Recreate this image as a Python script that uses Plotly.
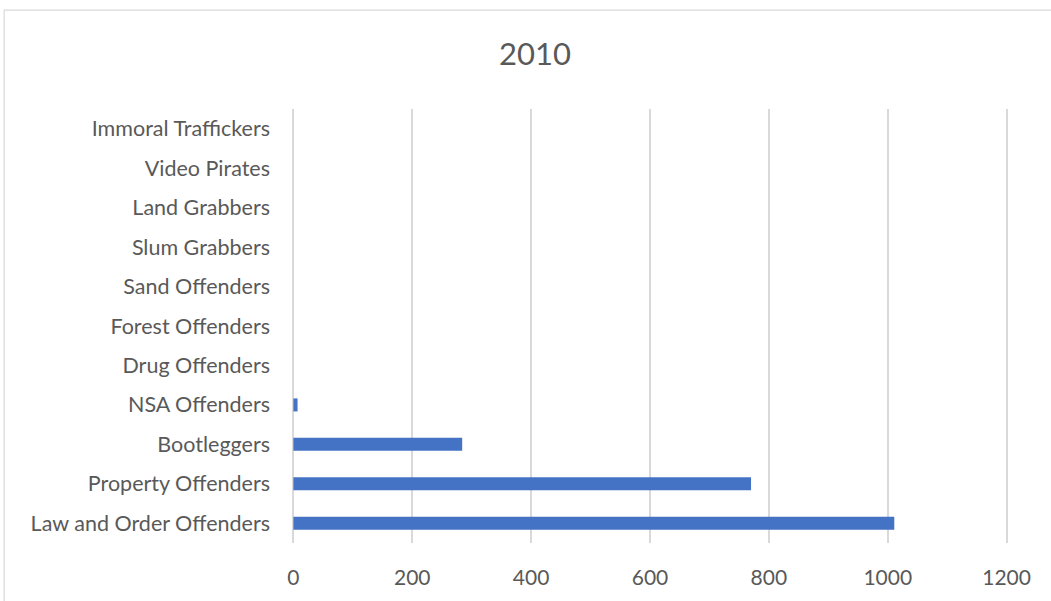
import plotly.graph_objects as go

categories = ["Law and Order Offenders", "Property Offenders", "Bootleggers", "NSA Offenders",
              "Drug Offenders", "Forest Offenders", "Sand Offenders", "Slum Grabbers",
              "Land Grabbers", "Video Pirates", "Immoral Traffickers"]
values = [1011, 770, 284, 7, 0, 0, 0, 0, 0, 0, 0]
tick_vals = [0, 200, 400, 600, 800, 1000, 1200]
title = "2010"

fig = go.Figure(go.Bar(
    y=categories, x=values, orientation="h",
    marker=dict(color="#4472c4", line=dict(width=0)),
    hoverinfo="x+y"))

fig.update_layout(
    width=1051, height=601,
    margin=dict(l=291, r=42, t=109, b=58),
    paper_bgcolor="white", plot_bgcolor="white",
    bargap=0.67,
    showlegend=False,
    font=dict(family="Lato, Calibri, sans-serif", color="#595959", size=21.5),
    title=dict(text=title, x=0.509, xanchor="center", y=0.91, yanchor="middle",
               font=dict(size=31, color="#595959")),
    xaxis=dict(range=[-4, 1204], tickvals=tick_vals, showgrid=True,
               gridcolor="#d9d9d9", gridwidth=1.5, zeroline=True,
               zerolinecolor="#d9d9d9", zerolinewidth=1.5,
               showline=False, ticks="", ticklabelstandoff=20,
               tickfont=dict(size=21)),
    yaxis=dict(categoryorder="array", categoryarray=categories, showgrid=False,
               zeroline=False, showline=False, ticks="", ticklabelstandoff=20,
               tickfont=dict(size=21.5)),
    shapes=[dict(type="rect", xref="paper", yref="paper",
                 x0=-0.3995, x1=1.3, y0=-0.4, y1=1.228,
                 line=dict(color="#d9d9d9", width=1.2), layer="below")],
)
fig.write_html("out.html")
